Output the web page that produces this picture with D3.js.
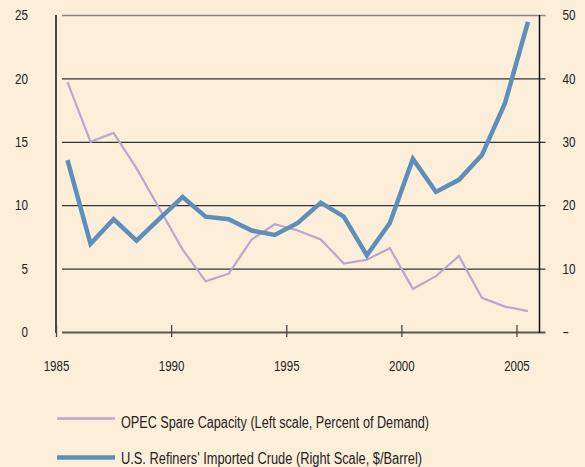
<!DOCTYPE html>
<html>
<head>
<meta charset="utf-8">
<script src="https://cdn.jsdelivr.net/npm/d3@7"></script>
<style>
  body { margin: 0; background: #fdeeda; }
  svg { display: block; }
  text { font-family: "Liberation Sans", Arial, sans-serif; fill: #222; }
</style>
</head>
<body>
<svg id="chart" width="585" height="467"></svg>
<script>
const years = [1985, 1986, 1987, 1988, 1989, 1990, 1991, 1992, 1993, 1994, 1995,
  1996, 1997, 1998, 1999, 2000, 2001, 2002, 2003, 2004, 2005];
// OPEC spare capacity, percent of demand (left scale)
const opecSpare = [19.7, 15.0, 15.7, 12.9, 9.7, 6.5, 4.0, 4.6, 7.3, 8.5, 8.0,
  7.3, 5.4, 5.7, 6.6, 3.4, 4.4, 6.0, 2.7, 2.0, 1.65];
// U.S. refiners' imported crude, $/barrel (right scale)
const crudePrice = [27.1, 13.9, 17.8, 14.4, 17.9, 21.3, 18.2, 17.8, 16.0, 15.3, 17.2,
  20.4, 18.2, 12.1, 17.2, 27.3, 22.1, 24.0, 27.9, 36.1, 48.9];
const leftTicks = [0, 5, 10, 15, 20, 25];
const rightTicks = [0, 10, 20, 30, 40, 50];
const yearTicks = [1985, 1990, 1995, 2000, 2005];
const legendLabels = [
  "OPEC Spare Capacity (Left scale, Percent of Demand)",
  "U.S. Refiners' Imported Crude (Right Scale, $/Barrel)"
];

const svg = d3.select("#chart");
const plotLeft = 56, plotRight = 539.5, plotTop = 15, plotBottom = 332;

const x = d3.scaleLinear().domain([1985, 2006]).range([plotLeft, plotRight]);
const yL = d3.scaleLinear().domain([0, 25]).range([plotBottom, plotTop]);
const yR = d3.scaleLinear().domain([0, 50]).range([plotBottom, plotTop]);

// condensed look: squeeze glyphs to the reference width
const narrow = (sel, perChar) => sel
  .style("font-size", "14.5px")
  .attr("textLength", function () { return this.textContent.length * perChar; })
  .attr("lengthAdjust", "spacingAndGlyphs");

// gridlines
const grid = svg.append("g").attr("transform", `translate(${plotLeft},0)`)
  .call(d3.axisLeft(yL).tickValues(leftTicks).tickSize(-(plotRight - plotLeft + 6)).tickFormat(""))
  .call(g => g.select(".domain").remove());
grid.selectAll(".tick line")
  .attr("x1", 6)
  .attr("stroke", d => d === 25 ? "#8a8580" : d === 0 ? "#5a5550" : "#333")
  .attr("stroke-width", d => d === 0 ? 2 : 1.3);

// left labels
svg.append("g").attr("transform", `translate(${plotLeft},0)`)
  .call(d3.axisLeft(yL).tickValues(leftTicks).tickSize(0).tickPadding(28))
  .call(g => g.select(".domain").remove())
  .selectAll("text").call(narrow, 6.5);

// right labels
svg.append("g").attr("transform", `translate(${plotRight},0)`)
  .call(d3.axisRight(yR).tickValues(rightTicks).tickSize(0)
    .tickPadding(23).tickFormat(d => d === 0 ? "-" : d))
  .call(g => g.select(".domain").remove())
  .selectAll("text").call(narrow, 6.5);

// vertical axis lines
svg.append("line").attr("x1", plotLeft).attr("x2", plotLeft).attr("y1", plotTop).attr("y2", plotBottom + 1)
  .attr("stroke", "#111").attr("stroke-width", 1.5);
svg.append("line").attr("x1", plotRight).attr("x2", plotRight).attr("y1", plotTop).attr("y2", plotBottom + 1)
  .attr("stroke", "#111").attr("stroke-width", 1.5);

// x axis ticks and labels
const xa = svg.append("g").attr("transform", `translate(0,${plotBottom})`)
  .call(d3.axisBottom(x).tickValues(yearTicks).tickSize(0).tickPadding(29).tickFormat(d3.format("d")))
  .call(g => g.select(".domain").remove());
xa.selectAll("text").call(narrow, 6.4);
xa.selectAll(".tick").append("line")
  .attr("y1", -7).attr("y2", 5).attr("stroke", "#444").attr("stroke-width", 1.3);

const series = years.map((yr, i) => ({ yr, opec: opecSpare[i], crude: crudePrice[i] }));

svg.append("path").datum(series)
  .attr("fill", "none").attr("stroke", "#bba6cc").attr("stroke-width", 2.2)
  .attr("d", d3.line().x(d => x(d.yr + 0.5)).y(d => yL(d.opec)));

svg.append("path").datum(series)
  .attr("fill", "none").attr("stroke", "#5e8fbb").attr("stroke-width", 4.5)
  .attr("d", d3.line().x(d => x(d.yr + 0.5)).y(d => yR(d.crude)));

// legend
const legend = svg.append("g");
const legendStyles = [
  { c: "#bba6cc", w: 2.5, y: 418.5, len: 308 },
  { c: "#5e8fbb", w: 4.5, y: 457.5, len: 301 }
];
legendLabels.forEach((label, i) => {
  const s = legendStyles[i];
  legend.append("line").attr("x1", 57).attr("x2", 115).attr("y1", s.y).attr("y2", s.y)
    .attr("stroke", s.c).attr("stroke-width", s.w);
  legend.append("text").attr("x", 121).attr("y", Math.min(s.y + 9, 464))
    .style("font-size", "16px")
    .attr("textLength", s.len).attr("lengthAdjust", "spacingAndGlyphs")
    .text(label);
});
</script>
</body>
</html>
